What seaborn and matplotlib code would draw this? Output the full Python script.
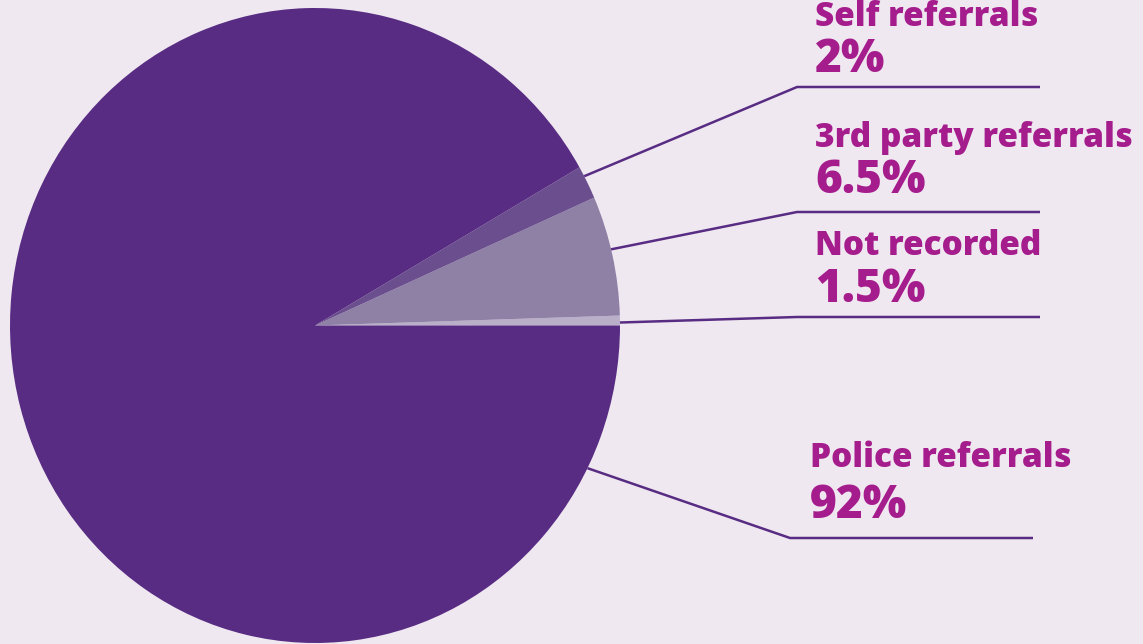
import numpy as np
import matplotlib
matplotlib.use("Agg")
import matplotlib.pyplot as plt
import seaborn as sns

# Data (slice shares as drawn, and the printed labels)
categories = ["Not recorded", "3rd party referrals", "Self referrals", "Police referrals"]
shares = [0.5, 6.1, 1.7, 91.7]
pct_labels = ["1.5%", "6.5%", "2%", "92%"]
colors = ["#B9AFC9", "#8F80A6", "#6A4E8D", "#582C83"]

sns.set_theme(style="white")
plt.rcParams["font.family"] = ["Open Sans", "DejaVu Sans"]

BG = "#EFE8F0"
TXT = "#A51C8C"
LINE = "#582C83"

W, H = 1143, 644
fig = plt.figure(figsize=(W / 100, H / 100), dpi=100, facecolor=BG)

# pie geometry in pixels (image coords, y down)
cx, cy, rx, ry = 315, 325.5, 305, 317.5

pax = fig.add_axes([(cx - rx) / W, (H - cy - ry) / H, 2 * rx / W, 2 * ry / H])
wedges, _ = pax.pie(shares, colors=colors, startangle=0, counterclock=True,
                    radius=1, wedgeprops=dict(linewidth=0))
pax.set_aspect("auto")
pax.set_xlim(-1, 1)
pax.set_ylim(-1, 1)
pax.axis("off")

ax = fig.add_axes([0, 0, 1, 1])
ax.set_xlim(0, W)
ax.set_ylim(H, 0)
ax.patch.set_alpha(0)
ax.axis("off")

# label layout: (angle inside wedge as fraction or fixed deg, elbow point, line end, text x, baselines)
layout = {
    "Self referrals": (0.7, (797, 87), 1040, 815, 26, 72),
    "3rd party referrals": (0.55, (797, 212), 1040, 815, 147, 193),
    "Not recorded": (0.3, (797, 317), 1040, 815, 255, 302),
    "Police referrals": (-26.7, (790, 538), 1033, 810, 467, 518),
}
for w, cat, pct in zip(wedges, categories, pct_labels):
    frac, elbow, xend, tx, b1, b2 = layout[cat]
    t1, t2 = w.theta1, w.theta2
    if cat == "Police referrals":
        ang = np.deg2rad(frac)
    else:
        ang = np.deg2rad(t1 + frac * (t2 - t1))
    sx, sy = cx + rx * np.cos(ang), cy - ry * np.sin(ang)
    ex, ey = elbow
    ax.plot([sx, ex, xend], [sy, ey, ey], color=LINE, lw=1.8,
            solid_capstyle="butt", clip_on=False)
    ax.text(tx, b1, cat, color=TXT, fontsize=24, fontweight="heavy",
            va="baseline", ha="left")
    ax.text(tx, b2, pct, color=TXT, fontsize=33, fontweight="heavy",
            va="baseline", ha="left")

fig.savefig("out.png", dpi=100, facecolor=BG)
